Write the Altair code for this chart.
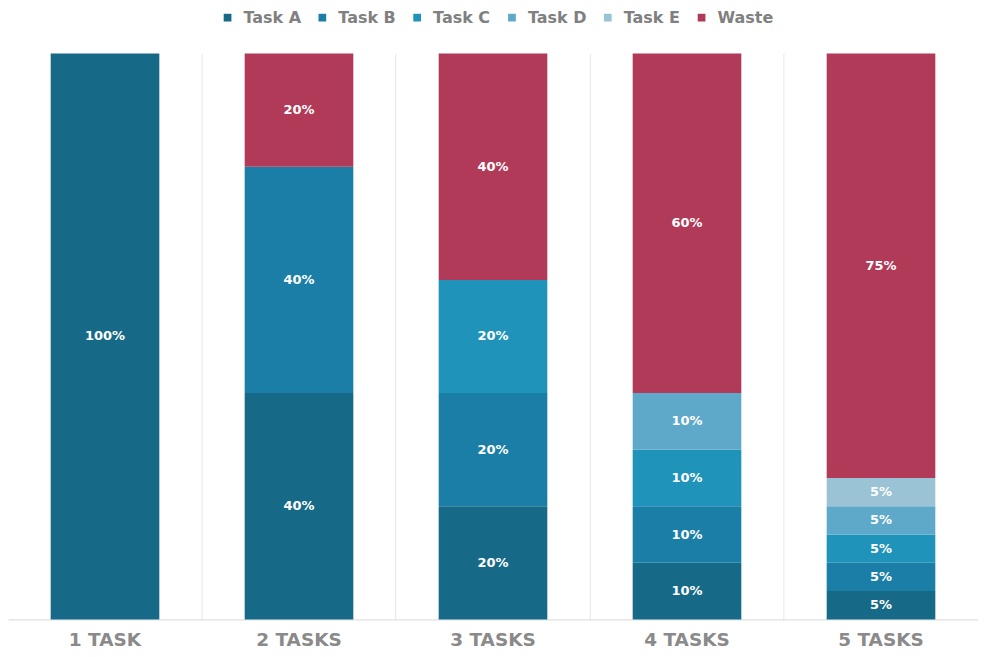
import altair as alt
import pandas as pd

groups = ["1 TASK", "2 TASKS", "3 TASKS", "4 TASKS", "5 TASKS"]
series = ["Task A", "Task B", "Task C", "Task D", "Task E", "Waste"]
colors = ["#176a87", "#1b7ea6", "#1f93b9", "#5ea9c9", "#9bc3d6", "#b03a58"]

task_a = [100, 40, 20, 10, 5]
task_b = [0, 40, 20, 10, 5]
task_c = [0, 0, 20, 10, 5]
task_d = [0, 0, 0, 10, 5]
task_e = [0, 0, 0, 0, 5]
waste = [0, 20, 40, 60, 75]

rows = []
for si, (name, vals) in enumerate(zip(series, [task_a, task_b, task_c, task_d, task_e, waste])):
    for g, v in zip(groups, vals):
        if v > 0:
            rows.append({"group": g, "series": name, "value": v, "order": si,
                         "label": f"{v}%"})
df = pd.DataFrame(rows)

base = alt.Chart(df).transform_stack(
    stack="value", groupby=["group"], as_=["y0", "y1"],
    sort=[alt.SortField("order", order="ascending")]
).transform_calculate(mid="(datum.y0 + datum.y1) / 2")

xscale = alt.Scale(paddingInner=0.44, paddingOuter=0.22)
yscale = alt.Scale(domain=[0, 100])

xaxis = alt.Axis(labelAngle=0, ticks=False, domainColor="#d9d9d9",
                 labelFont="DejaVu Sans", labelFontSize=18.5,
                 labelFontWeight="bold", labelColor="#8a8a8a",
                 labelPadding=11, grid=True, gridColor="#e6e6e6",
                 bandPosition=-0.393)

bars = base.mark_bar().encode(
    x=alt.X("group:N", sort=groups, title=None, scale=xscale, axis=xaxis),
    y=alt.Y("y0:Q", scale=yscale, axis=None),
    y2="y1:Q",
    color=alt.Color("series:N", scale=alt.Scale(domain=series, range=colors),
                    legend=alt.Legend(title=None, orient="none", direction="horizontal",
                                      legendX=212, legendY=-44, symbolType="square",
                                      symbolSize=60, labelFontSize=16,
                                      labelFontWeight="bold", labelOffset=8,
                                      labelColor="#808080", labelFont="DejaVu Sans",
                                      columnPadding=13, symbolStrokeWidth=0)),
)

texts = base.mark_text(color="white", fontWeight="bold", fontSize=13,
                       font="DejaVu Sans").encode(
    x=alt.X("group:N", sort=groups, title=None, scale=xscale, axis=xaxis),
    y=alt.Y("mid:Q", scale=yscale, axis=None),
    text="label:N",
)

chart = alt.layer(bars, texts).properties(
    width=972, height=567,
    background="white",
    padding={"left": 0, "top": 45, "right": 0, "bottom": 32},
    autosize=alt.AutoSizeParams(type="none"),
).configure_view(stroke=None)

chart.save("out.html", embed_options={"renderer": "svg", "actions": False})
